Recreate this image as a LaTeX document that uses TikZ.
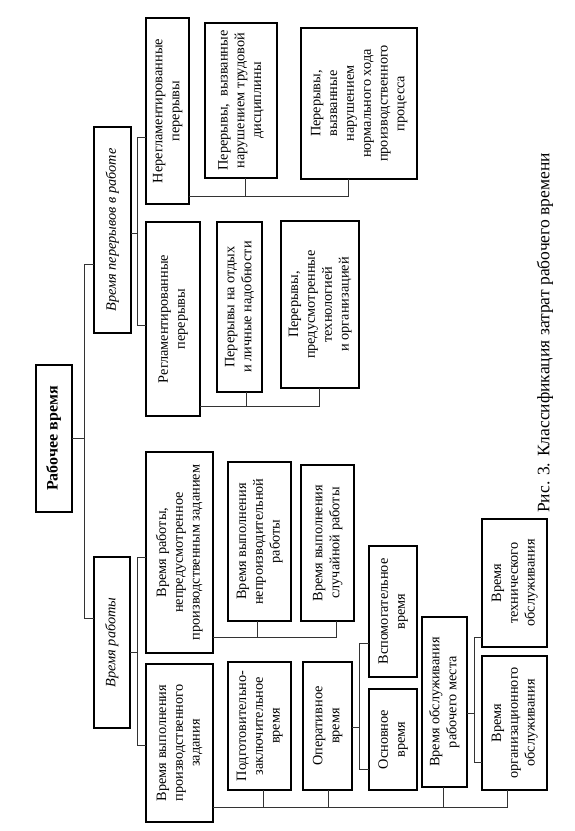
\documentclass[tikz,border=0pt]{standalone}
\usepackage{fontspec}
\setmainfont{Liberation Serif}
\usepackage{graphicx}
\newcommand{\rt}[1]{\rotatebox{90}{\begin{tabular}{@{}c@{}}#1\end{tabular}}}
\begin{document}
\begin{tikzpicture}[x=1pt,y=-1pt,
  box/.style={draw=black,line width=1.4pt,rectangle,inner sep=0pt,outer sep=0pt,
    font=\fontsize{14.3}{16.8}\selectfont},
  conn/.style={draw=black!80,line width=0.9pt}]
\useasboundingbox (0,0) rectangle (574,831);
% level 0
\node[box,minimum width=36,minimum height=147,font=\fontsize{16}{18}\selectfont] (root) at (54,438.5) {\rt{\textbf{Рабочее время}}};
% level 1
\node[box,minimum width=37,minimum height=206] (perr) at (112.5,230) {\rt{\textit{Время перерывов в работе}}};
\node[box,minimum width=36,minimum height=171] (rab) at (112,642.5) {\rt{\textit{Время работы}}};
% level 2 (breaks)
\node[box,minimum width=43,minimum height=186] (nereg) at (167.5,111) {\rt{Нерегламентированные\\перерывы}};
\node[box,minimum width=54,minimum height=194] (reg) at (173,319) {\rt{Регламентированные\\перерывы}};
\node[box,minimum width=72,minimum height=155] (disc) at (241,100.5) {\rt{Перерывы,\ \ вызванные\\нарушением трудовой\\дисциплины}};
\node[box,minimum width=116,minimum height=151] (proc) at (359,103.5) {\rt{Перерывы,\\вызванные\\нарушением\\нормального хода\\производственного\\процесса}};
\node[box,minimum width=45,minimum height=170] (otd) at (239.5,307) {\rt{Перерывы на отдых\\и личные надобности}};
\node[box,minimum width=78,minimum height=167] (tech) at (320,304.5) {\rt{Перерывы,\\предусмотренные\\технологией\\и организацией}};
% level 2 (work)
\node[box,minimum width=67,minimum height=201] (nepred) at (179.5,552.5) {\rt{Время работы,\\непредусмотренное\\производственным заданием}};
\node[box,minimum width=67,minimum height=158] (vyp) at (179.5,743) {\rt{Время выполнения\\производственного\\задания}};
\node[box,minimum width=63,minimum height=159] (neproizv) at (259.5,541.5) {\rt{Время выполнения\\непроизводительной\\работы}};
\node[box,minimum width=53,minimum height=156] (sluch) at (327.5,543) {\rt{Время выполнения\\случайной работы}};
\node[box,minimum width=63,minimum height=128] (podg) at (259.5,726) {\rt{Подготовительно-\\заключительное\\время}};
\node[box,minimum width=49,minimum height=128] (oper) at (327.5,726) {\rt{Оперативное\\время}};
\node[box,minimum width=48,minimum height=131] (vspom) at (393,611.5) {\rt{Вспомогательное\\время}};
\node[box,minimum width=48,minimum height=101] (osn) at (393,739.5) {\rt{Основное\\время}};
\node[box,minimum width=45,minimum height=170] (obsl) at (444.5,702) {\rt{Время обслуживания\\рабочего места}};
\node[box,minimum width=65,minimum height=128] (techobs) at (514.5,583) {\rt{Время\\технического\\обслуживания}};
\node[box,minimum width=65,minimum height=134] (org) at (514.5,723) {\rt{Время\\организационного\\обслуживания}};
% caption
\node[font=\fontsize{17.5}{20}\selectfont,rotate=90] (cap) at (545,333) {Рис. 3. Классификация затрат рабочего времени};
% connectors
\draw[conn] (root.east) -- (root.east -| 84,0);
\draw[conn] (perr.west |- 0,264) -- (84,264) -- (84,618) -- (rab.west |- 0,618);
\draw[conn] (perr.east |- 0,233) -- (137,233);
\draw[conn] (nereg.west |- 0,137) -- (137,137) -- (137,325) -- (reg.west |- 0,325);
\draw[conn] (nereg.east |- 0,196) -- (348,196) -- (348,0 |- proc.south);
\draw[conn] (245,196) -- (245,0 |- disc.south);
\draw[conn] (reg.east |- 0,406) -- (319,406) -- (319,0 |- tech.south);
\draw[conn] (246,406) -- (246,0 |- otd.south);
\draw[conn] (rab.east |- 0,652) -- (137,652);
\draw[conn] (nepred.west |- 0,557) -- (137,557) -- (137,745) -- (vyp.west |- 0,745);
\draw[conn] (nepred.east |- 0,637) -- (336,637) -- (336,0 |- sluch.south);
\draw[conn] (257,637) -- (257,0 |- neproizv.south);
\draw[conn] (vyp.east |- 0,807) -- (507,807) -- (507,0 |- org.south);
\draw[conn] (263,807) -- (263,0 |- podg.south);
\draw[conn] (328,807) -- (328,0 |- oper.south);
\draw[conn] (443,807) -- (443,0 |- obsl.south);
\draw[conn] (oper.east |- 0,727) -- (359,727);
\draw[conn] (vspom.west |- 0,643) -- (359,643) -- (359,769) -- (osn.west |- 0,769);
\draw[conn] (obsl.east |- 0,713) -- (474,713);
\draw[conn] (techobs.west |- 0,637) -- (474,637) -- (474,762) -- (org.west |- 0,762);
\end{tikzpicture}
\end{document}
